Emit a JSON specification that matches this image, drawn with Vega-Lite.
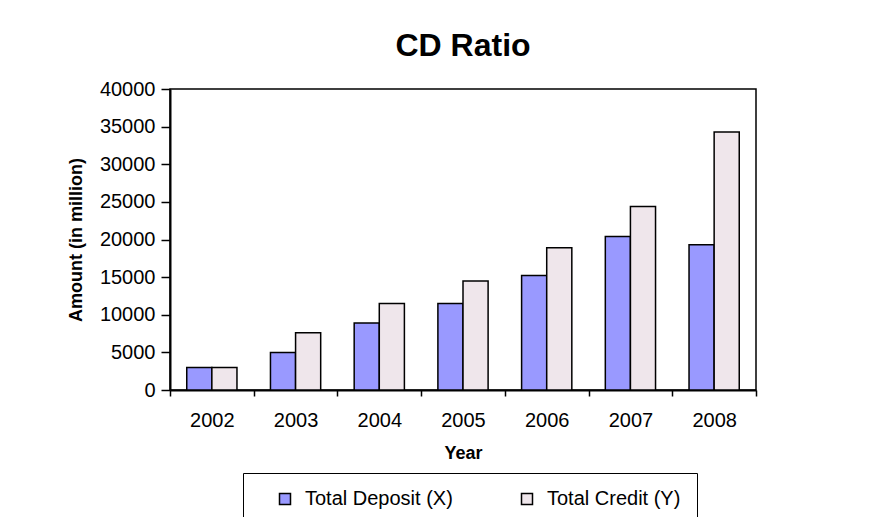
{
  "$schema": "https://vega.github.io/schema/vega-lite/v6.json",
  "width": 586,
  "height": 301,
  "autosize": {"type": "none"},
  "padding": {"left": 170, "top": 89, "right": 117, "bottom": 127},
  "background": "white",
  "title": {"text": "CD Ratio", "fontSize": 32, "fontWeight": "bold", "anchor": "middle", "frame": "group", "offset": 16, "color": "black"},
  "data": {"values": [
    {"Year": "2002", "Series": "Total Deposit (X)", "Amount": 3000},
    {"Year": "2002", "Series": "Total Credit (Y)", "Amount": 3000},
    {"Year": "2003", "Series": "Total Deposit (X)", "Amount": 5000},
    {"Year": "2003", "Series": "Total Credit (Y)", "Amount": 7600},
    {"Year": "2004", "Series": "Total Deposit (X)", "Amount": 8900},
    {"Year": "2004", "Series": "Total Credit (Y)", "Amount": 11500},
    {"Year": "2005", "Series": "Total Deposit (X)", "Amount": 11500},
    {"Year": "2005", "Series": "Total Credit (Y)", "Amount": 14500},
    {"Year": "2006", "Series": "Total Deposit (X)", "Amount": 15200},
    {"Year": "2006", "Series": "Total Credit (Y)", "Amount": 18900},
    {"Year": "2007", "Series": "Total Deposit (X)", "Amount": 20400},
    {"Year": "2007", "Series": "Total Credit (Y)", "Amount": 24400},
    {"Year": "2008", "Series": "Total Deposit (X)", "Amount": 19300},
    {"Year": "2008", "Series": "Total Credit (Y)", "Amount": 34300}
  ]},
  "mark": {"type": "bar", "stroke": "black", "strokeWidth": 1.5},
  "encoding": {
    "x": {
      "field": "Year", "type": "nominal",
      "scale": {"paddingInner": 0, "paddingOuter": 0},
      "axis": {"labelAngle": 0, "tickBand": "extent", "tickSize": 6, "labelPadding": 14, "titlePadding": 14, "title": "Year"}
    },
    "xOffset": {
      "field": "Series", "type": "nominal",
      "sort": ["Total Deposit (X)", "Total Credit (Y)"],
      "scale": {"paddingInner": 0, "paddingOuter": 0.667}
    },
    "y": {
      "field": "Amount", "type": "quantitative",
      "scale": {"domain": [0, 40000], "nice": false},
      "axis": {"values": [0, 5000, 10000, 15000, 20000, 25000, 30000, 35000, 40000], "grid": false, "title": "Amount (in million)", "format": "d", "tickSize": 9, "labelPadding": 6, "titlePadding": 14}
    },
    "color": {
      "field": "Series", "type": "nominal",
      "sort": ["Total Deposit (X)", "Total Credit (Y)"],
      "scale": {"domain": ["Total Deposit (X)", "Total Credit (Y)"], "range": ["#9999FF", "#EFE6EB"]},
      "legend": {
        "title": null, "orient": "none", "legendX": 73, "legendY": 384,
        "direction": "horizontal", "columns": 2,
        "strokeColor": "black", "fillColor": "white",
        "padding": 16, "symbolOffset": 16, "columnPadding": 48,
        "labelFontSize": 20, "labelOffset": 10, "labelColor": "black", "labelLimit": 300,
        "symbolType": "square", "symbolSize": 121, "symbolStrokeColor": "black", "symbolStrokeWidth": 1.5
      }
    }
  },
  "config": {
    "font": "Liberation Sans",
    "view": {"stroke": "black", "strokeWidth": 1.5},
    "axis": {
      "labelFontSize": 20, "labelColor": "black", "labelFont": "Liberation Sans",
      "titleFontSize": 18, "titleFontWeight": "bold", "titleColor": "black", "titleFont": "Liberation Sans",
      "domainColor": "black", "domainWidth": 2, "tickColor": "black", "tickWidth": 1.5
    }
  }
}
